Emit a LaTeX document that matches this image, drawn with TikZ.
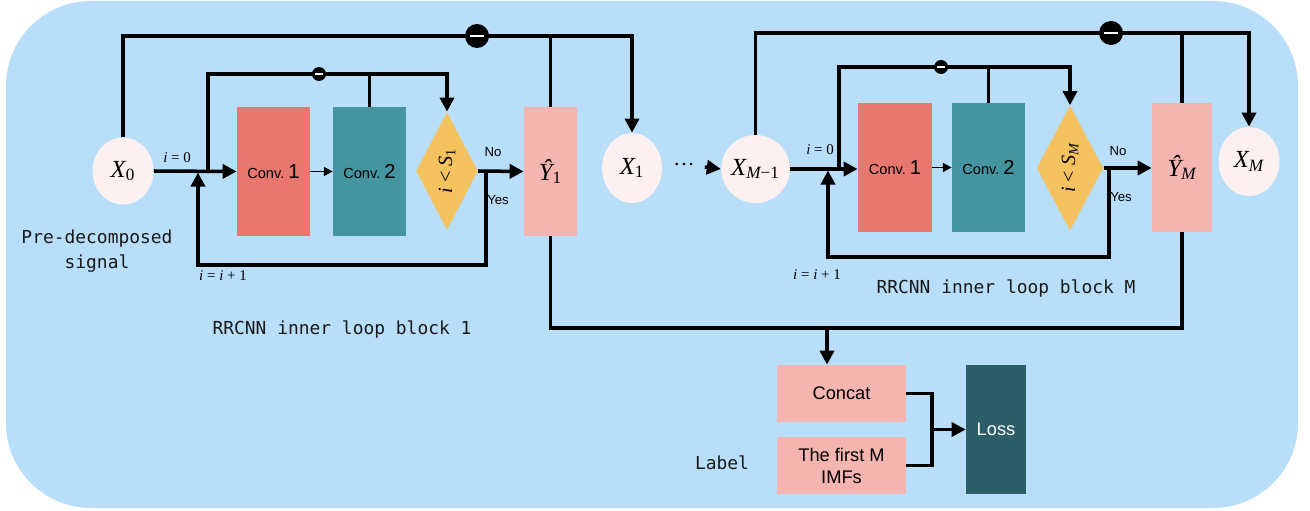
\documentclass[tikz,border=0pt]{standalone}
\usepackage{fontspec}
\setsansfont{Liberation Sans}
\setmonofont{DejaVu Sans Mono}
\newfontfamily\tms{Liberation Serif}
\usetikzlibrary{shapes.geometric,arrows.meta}
\definecolor{bgc}{HTML}{B8DEF9}
\definecolor{convA}{HTML}{E8776F}
\definecolor{convB}{HTML}{4495A0}
\definecolor{diac}{HTML}{F5C260}
\definecolor{pinkc}{HTML}{F4B4AF}
\definecolor{ellc}{HTML}{FCF0F0}
\definecolor{lossc}{HTML}{2B5E66}
\newcommand\mvar[2]{{\tms\itshape #1}\textsubscript{\tms #2}}
\newcommand\convlab[1]{{\sffamily\fontsize{8.3}{9}\selectfont Conv.\ \fontsize{11.5}{13}\selectfont #1}}
\begin{document}
\begin{tikzpicture}[x=0.02cm,y=-0.02cm,
  ln/.style={line width=2pt},
  arr/.style={line width=2pt,-{Triangle[length=8pt,width=8pt]}},
  thinarr/.style={line width=1.1pt,-{Triangle[length=5pt,width=5pt]}},
  box/.style 2 args={rectangle,inner sep=0pt,minimum width=#1*0.02cm,minimum height=#2*0.02cm},
  ell/.style 2 args={ellipse,fill=ellc,inner sep=0pt,minimum width=#1*0.02cm,minimum height=#2*0.02cm,font=\tms\fontsize{14}{16}\selectfont},
  dia/.style 2 args={diamond,fill=diac,inner sep=0pt,minimum width=#1*0.02cm,minimum height=#2*0.02cm},
  minusbig/.style={circle,fill=black,inner sep=0pt,minimum size=24*0.02cm},
  minussmall/.style={circle,fill=black,inner sep=0pt,minimum size=14*0.02cm},
  mono/.style={font=\ttfamily\fontsize{10.2}{14.2}\selectfont,text=black!90,align=center},
  small/.style={font=\tms\fontsize{8.5}{10}\selectfont,inner sep=0pt},
  yn/.style={font=\sffamily\fontsize{7.5}{9}\selectfont,inner sep=0pt},
  sbox/.style={font=\sffamily\fontsize{10.4}{12.5}\selectfont,align=center}
]
\useasboundingbox (0,0) rectangle (1310,510);
\fill[bgc,rounded corners=1.7cm] (6,1) rectangle (1298,508);

% ---------- block 1 ----------
\node[ell={61}{67}] (X0) at (123,171) {\mvar{X}{0}};
\node[box={73}{129},fill=convA] (c1a) at (273.5,171.5) {\convlab{1}};
\node[box={73}{129},fill=convB] (c2a) at (369.5,171.5) {\convlab{2}};
\node[dia={59}{118}] (d1) at (447,171) {\rotatebox{90}{\tms\fontsize{11.5}{13}\selectfont\itshape i \upshape< \itshape S\textsubscript{\upshape 1}}};
\node[box={53}{129},fill=pinkc,font=\tms\fontsize{14}{16}\selectfont] (Y1) at (550.5,171.5) {\mvar{Ŷ}{1}};
\node[ell={60}{70}] (X1) at (632,168) {\mvar{X}{1}};

\coordinate (t1) at (0,36);
\coordinate (u1) at (208,74);
\coordinate (j1) at (208,171);
\coordinate (y1) at (486,171);
\coordinate (b1) at (198,265);
\coordinate (e1) at (198,172.5);

\draw[arr] (X0.north) |- (t1 -| X1.north) -- (X1.north);
\draw[ln] (Y1.north) -- (Y1.north |- t1);
\draw[arr] (X0.east) -- (c1a.west);
\draw[arr] (j1) -- (u1) -| (d1.north);
\draw[ln] (c2a.north) -- (c2a.north |- u1);
\draw[thinarr] (c1a.east) -- (c2a.west);
\draw[arr] (d1.east) -- (Y1.west);
\draw[arr] (y1) |- (b1) -- (e1);
\node[minusbig] (mb1) at (477,36) {};
\draw[white,line width=1.2pt] ([xshift=-0.14cm]mb1.center) -- ([xshift=0.14cm]mb1.center);
\node[minussmall] (ms1) at (319,74) {};
\draw[white,line width=0.9pt] ([xshift=-0.08cm]ms1.center) -- ([xshift=0.08cm]ms1.center);

\node[small] (l10) at (177,158) {{\itshape i} = 0};
\node[small] (l11) at (223,276) {{\itshape i} = {\itshape i} + 1};
\node[yn] (no1) at (493,152) {No};
\node[yn] (yes1) at (498,200) {Yes};

% ---------- between ----------
\node[inner sep=0pt,font=\tms\fontsize{12}{12}\selectfont] (dots) at (684,167) {···};

% ---------- block M ----------
\node[ell={61}{68}] (XM1) at (755.5,169) {{\tms\itshape X}\textsubscript{\tms\itshape M\upshape −1}};
\node[box={74}{129},fill=convA] (c1b) at (895,167.5) {\convlab{1}};
\node[box={73}{129},fill=convB] (c2b) at (988.5,167.5) {\convlab{2}};
\node[dia={64}{125}] (dM) at (1070,168) {\rotatebox{90}{\tms\fontsize{11.5}{13}\selectfont\itshape i \upshape< \itshape S\textsubscript{M}}};
\node[box={60}{129},fill=pinkc,font=\tms\fontsize{14}{16}\selectfont] (YM) at (1182,167.5) {{\tms\itshape Ŷ}\textsubscript{\tms\itshape M}};
\node[ell={61}{69}] (XM) at (1249,161.5) {{\tms\itshape X}\textsubscript{\tms\itshape M}};

\coordinate (t2) at (0,33);
\coordinate (u2) at (839,67);
\coordinate (j2) at (839,169);
\coordinate (y2) at (1109,169);
\coordinate (b2) at (828,257);
\coordinate (e2) at (828,170.5);

\draw[arr] ([xshift=0.2cm]dots.east) -- (XM1.west);
\draw[arr] (XM1.north) |- (t2 -| XM.north) -- (XM.north);
\draw[ln] (YM.north) -- (YM.north |- t2);
\draw[arr] (XM1.east) -- (c1b.west |- XM1.east);
\draw[arr] (j2) -- (u2) -| (dM.north);
\draw[ln] (c2b.north) -- (c2b.north |- u2);
\draw[thinarr] (c1b.east) -- (c2b.west);
\draw[arr] (dM.east) -- (YM.west |- dM.east);
\draw[arr] (y2) |- (b2) -- (e2);
\node[minusbig] (mb2) at (1111,33) {};
\draw[white,line width=1.2pt] ([xshift=-0.14cm]mb2.center) -- ([xshift=0.14cm]mb2.center);
\node[minussmall] (ms2) at (941,67) {};
\draw[white,line width=0.9pt] ([xshift=-0.08cm]ms2.center) -- ([xshift=0.08cm]ms2.center);

\node[small] (l20) at (820,150) {{\itshape i} = 0};
\node[small] (l21) at (817,275) {{\itshape i} = {\itshape i} + 1};
\node[yn] (no2) at (1118,151) {No};
\node[yn] (yes2) at (1121,197) {Yes};

% ---------- texts ----------
\node[mono] (pre) at (97,251) {Pre-decomposed\\signal};
\node[mono] (rb1) at (342,330) {RRCNN inner loop block 1};
\node[mono] (rbM) at (1006,289) {RRCNN inner loop block M};
\node[mono] (lab) at (722,463) {Label};

% ---------- bottom ----------
\node[box={129}{57},fill=pinkc,sbox] (cat) at (841.5,393.5) {Concat};
\node[box={129}{57},fill=pinkc,sbox] (imf) at (841.5,465.5) {The first M\\IMFs};
\node[box={60}{129},fill=lossc,sbox,text=white] (loss) at (996,429.5) {Loss};

\coordinate (bot) at (0,328);
\coordinate (ca) at (827,328);
\coordinate (jn) at (932,429.5);
\draw[ln] (Y1.south) |- (bot -| YM.south) -- (YM.south);
\draw[arr] (ca) -- (ca |- cat.north);
\draw[ln] (cat.east) -| (jn);
\draw[ln] (imf.east) -| (jn);
\draw[arr] (jn) -- (loss.west);
\end{tikzpicture}
\end{document}
